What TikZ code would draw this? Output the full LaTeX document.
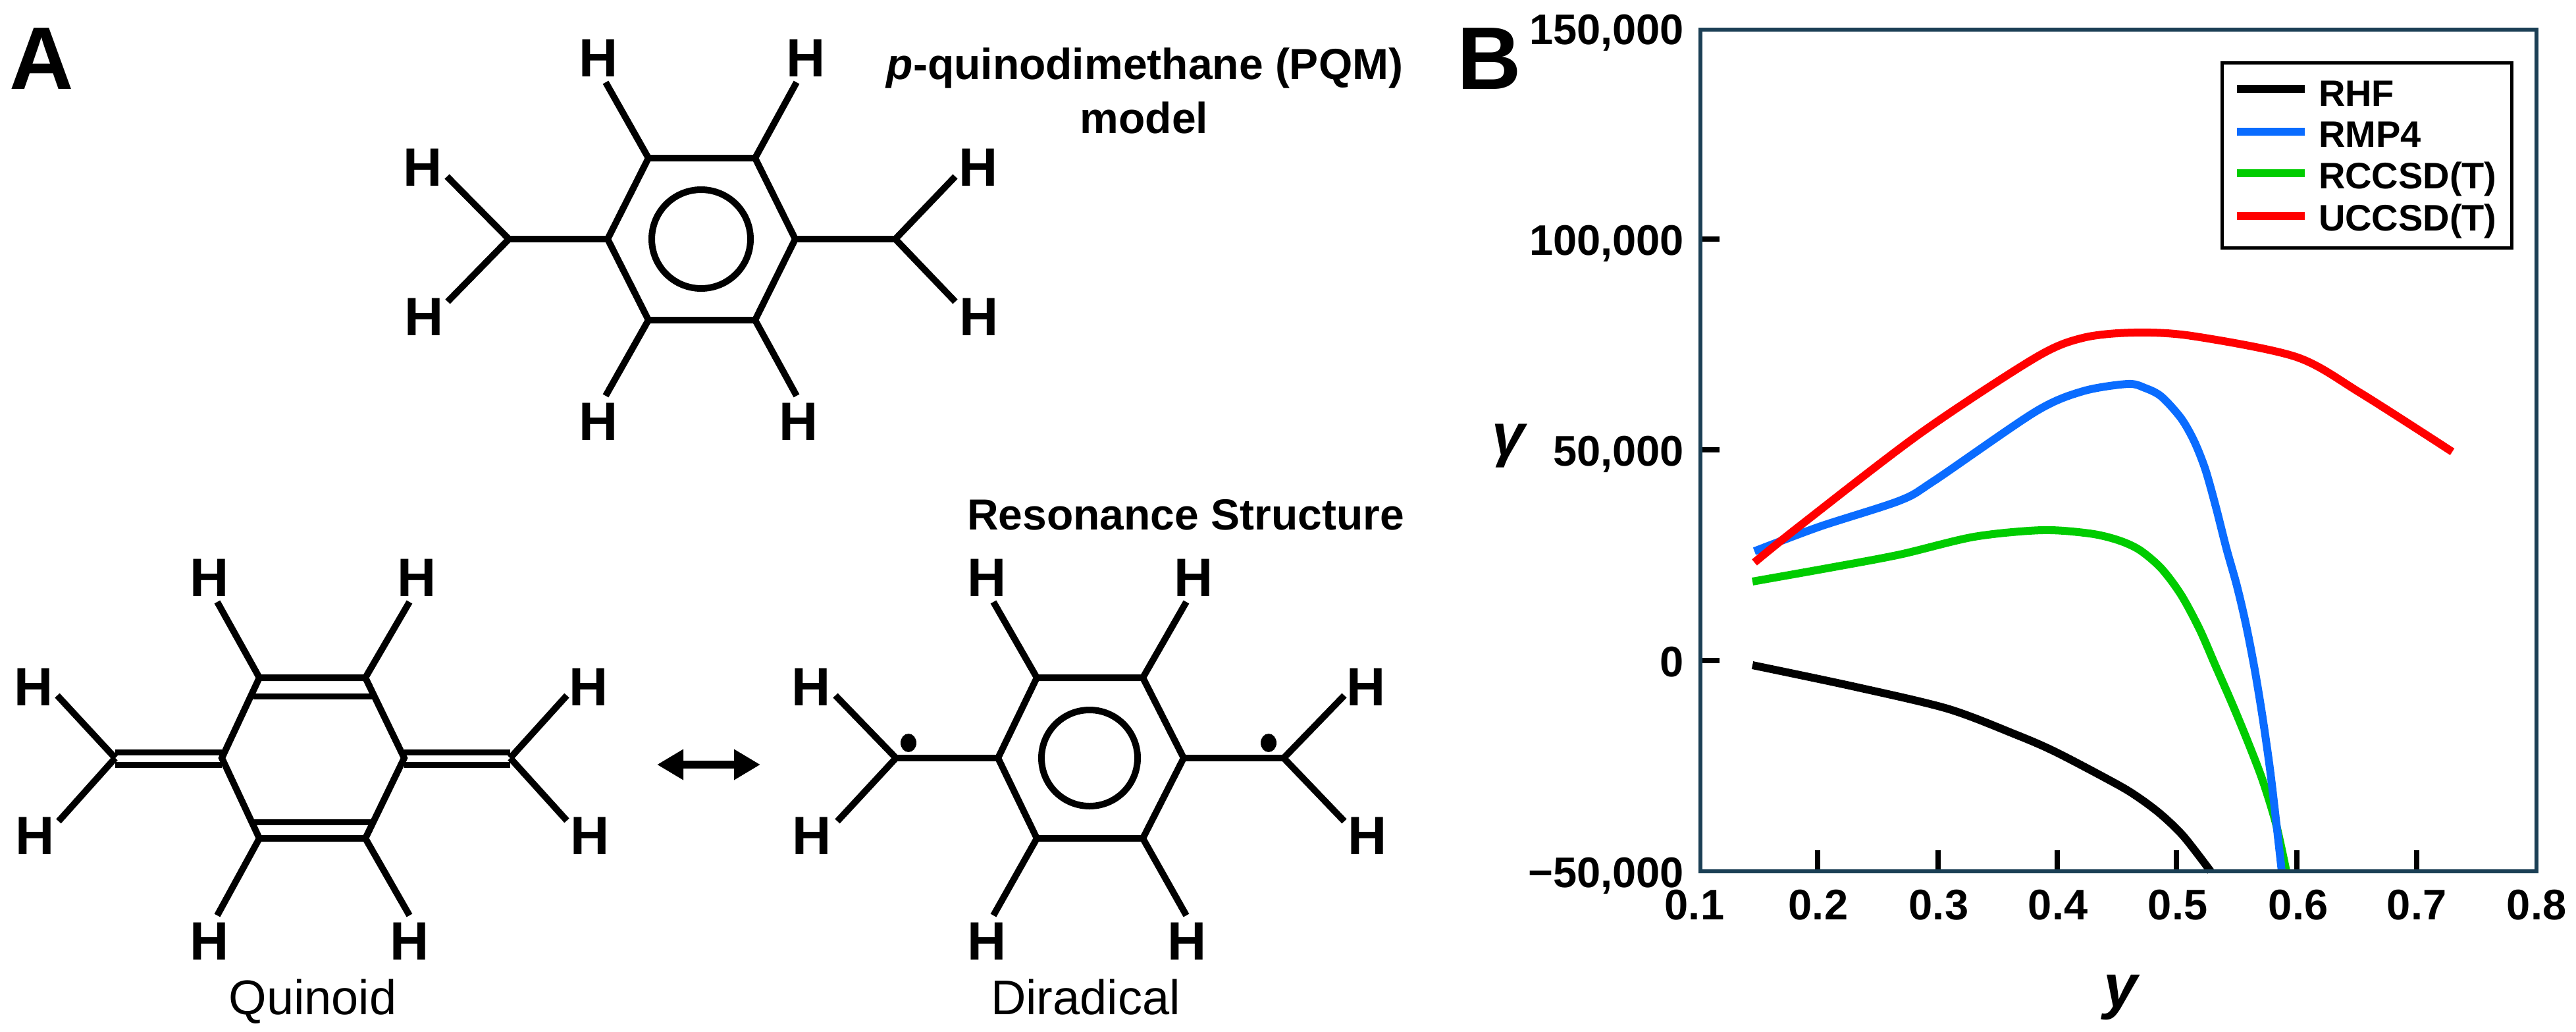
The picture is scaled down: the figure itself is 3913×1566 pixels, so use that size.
\documentclass[tikz,border=0pt]{standalone}
\usepackage{fontspec}
\setmainfont{Liberation Sans}
\usetikzlibrary{arrows.meta}
\newcommand{\fsz}[1]{\fontsize{#1}{#1}\selectfont}
\definecolor{axiscol}{HTML}{1B3F55}
\definecolor{cblue}{HTML}{0A6CFF}
\definecolor{cgreen}{HTML}{00CC00}
\definecolor{cred}{HTML}{FF0000}
\tikzset{
  hatom/.style={inner sep=0pt,outer sep=0pt,font=\fsz{82}\bfseries},
  bond/.style={line width=10pt,line join=miter,line cap=butt},
  dblbond/.style={line width=9pt,line cap=butt},
  panel/.style={inner sep=0pt,outer sep=0pt,anchor=base west,font=\fsz{135}\bfseries},
  title/.style={inner sep=0pt,outer sep=0pt,anchor=base,font=\fsz{66}\bfseries},
  caption/.style={inner sep=0pt,outer sep=0pt,anchor=base,font=\fsz{74}},
  ylab/.style={inner sep=0pt,outer sep=0pt,anchor=base east,font=\fsz{65}\bfseries},
  xlab/.style={inner sep=0pt,outer sep=0pt,anchor=base,font=\fsz{65}\bfseries},
  leglab/.style={inner sep=0pt,outer sep=0pt,anchor=base west,font=\fsz{56}\bfseries},
  curve/.style={line width=12pt,line cap=butt,line join=round},
  axtick/.style={line width=8pt,black},
}
\begin{document}
\begin{tikzpicture}[x=1pt,y=-1pt]
\useasboundingbox (0,0) rectangle (3913,1566);
% panel letters
\node[panel] (pa) at (14,135) {A};
\node[panel] (pb) at (2213,135) {B};
% top molecule
\coordinate (tcl) at (773,363);
\coordinate (tr1) at (923,363);
\coordinate (tr2) at (985,240);
\coordinate (tr3) at (1147,240);
\coordinate (tr4) at (1208,363);
\coordinate (tr5) at (1147,486);
\coordinate (tr6) at (985,486);
\coordinate (tcr) at (1360,363);
\coordinate (tcc) at (1065,363);
\draw[bond] (tr1)--(tr2)--(tr3)--(tr4)--(tr5)--(tr6)--cycle;
\draw[bond] (tcc) circle[radius=75pt];
\draw[bond] (tr1)--(tcl); \draw[bond] (tr4)--(tcr);
\node[hatom] (th1) at (909,88) {H};
\node[hatom] (th2) at (1224,88) {H};
\node[hatom] (th3) at (642,254) {H};
\node[hatom] (th4) at (644,481) {H};
\node[hatom] (th5) at (1486,254) {H};
\node[hatom] (th6) at (1487,481) {H};
\node[hatom] (th7) at (909,640) {H};
\node[hatom] (th8) at (1213,640) {H};
\coordinate (te1) at (920,125);
\coordinate (te2) at (1210,125);
\coordinate (te3) at (679,268);
\coordinate (te4) at (680,458);
\coordinate (te5) at (1451,268);
\coordinate (te6) at (1451,458);
\coordinate (te7) at (920,601);
\coordinate (te8) at (1210,601);
\draw[bond] (tr2)--(te1); \draw[bond] (tr3)--(te2);
\draw[bond] (tcl)--(te3); \draw[bond] (tcl)--(te4);
\draw[bond] (tcr)--(te5); \draw[bond] (tcr)--(te6);
\draw[bond] (tr6)--(te7); \draw[bond] (tr5)--(te8);
\node[title] (pqm1) at (1739,120) {\textit{p}-quinodimethane (PQM)};
\node[title] (pqm2) at (1738,202) {model};
% quinoid
\coordinate (qcl) at (175,1151);
\coordinate (qr1) at (337,1151);
\coordinate (qr2) at (394,1029);
\coordinate (qr3) at (555,1029);
\coordinate (qr4) at (614,1151);
\coordinate (qr5) at (555,1273);
\coordinate (qr6) at (394,1273);
\coordinate (qcr) at (775,1151);
\draw[bond] (qr1)--(qr2)--(qr3)--(qr4)--(qr5)--(qr6)--cycle;
\coordinate (qa1) at (385,1057); \coordinate (qa2) at (566,1057);
\coordinate (qb1) at (385,1248); \coordinate (qb2) at (566,1248);
\draw[dblbond] (qa1)--(qa2); \draw[dblbond] (qb1)--(qb2);
\draw[dblbond] (175,1142)--(337,1142); \draw[dblbond] (175,1161)--(337,1161);
\draw[dblbond] (614,1142)--(775,1142); \draw[dblbond] (614,1161)--(775,1161);
\node[hatom] (qh1) at (318,877) {H};
\node[hatom] (qh2) at (633,877) {H};
\node[hatom] (qh3) at (51,1043) {H};
\node[hatom] (qh4) at (53,1269) {H};
\node[hatom] (qh5) at (894,1043) {H};
\node[hatom] (qh6) at (896,1269) {H};
\node[hatom] (qh7) at (318,1429) {H};
\node[hatom] (qh8) at (622,1429) {H};
\coordinate (qe1) at (330,914);
\coordinate (qe2) at (622,914);
\coordinate (qe3) at (87,1056);
\coordinate (qe4) at (89,1247);
\coordinate (qe5) at (861,1056);
\coordinate (qe6) at (861,1246);
\coordinate (qe7) at (330,1390);
\coordinate (qe8) at (622,1390);
\draw[bond] (qr2)--(qe1); \draw[bond] (qr3)--(qe2);
\draw[bond] (qcl)--(qe3); \draw[bond] (qcl)--(qe4);
\draw[bond] (qcr)--(qe5); \draw[bond] (qcr)--(qe6);
\draw[bond] (qr6)--(qe7); \draw[bond] (qr5)--(qe8);
\node[caption] (qcap) at (475,1540) {Quinoid};
% resonance arrow
\coordinate (al) at (998,1161); \coordinate (ar) at (1155,1161);
\draw[line width=12pt,{Triangle[length=40pt,width=44pt]}-{Triangle[length=40pt,width=44pt]}] (al)--(ar);
% diradical
\coordinate (dcl) at (1361,1151);
\coordinate (dr1) at (1516,1151);
\coordinate (dr2) at (1575,1029);
\coordinate (dr3) at (1736,1029);
\coordinate (dr4) at (1798,1151);
\coordinate (dr5) at (1736,1273);
\coordinate (dr6) at (1575,1273);
\coordinate (dcr) at (1950,1151);
\coordinate (dcc) at (1655,1151);
\draw[bond] (dr1)--(dr2)--(dr3)--(dr4)--(dr5)--(dr6)--cycle;
\draw[bond] (dcc) circle[radius=73pt];
\draw[bond] (dr1)--(dcl); \draw[bond] (dr4)--(dcr);
\coordinate (dd1) at (1380,1128); \coordinate (dd2) at (1927,1128);
\fill (dd1) ellipse[x radius=12pt,y radius=14pt];
\fill (dd2) ellipse[x radius=12pt,y radius=14pt];
\node[hatom] (dh1) at (1499,877) {H};
\node[hatom] (dh2) at (1813,877) {H};
\node[hatom] (dh3) at (1232,1043) {H};
\node[hatom] (dh4) at (1233,1269) {H};
\node[hatom] (dh5) at (2075,1043) {H};
\node[hatom] (dh6) at (2077,1269) {H};
\node[hatom] (dh7) at (1499,1429) {H};
\node[hatom] (dh8) at (1803,1429) {H};
\coordinate (de1) at (1509,914);
\coordinate (de2) at (1802,914);
\coordinate (de3) at (1269,1056);
\coordinate (de4) at (1272,1247);
\coordinate (de5) at (2042,1056);
\coordinate (de6) at (2042,1247);
\coordinate (de7) at (1509,1390);
\coordinate (de8) at (1802,1390);
\draw[bond] (dr2)--(de1); \draw[bond] (dr3)--(de2);
\draw[bond] (dcl)--(de3); \draw[bond] (dcl)--(de4);
\draw[bond] (dcr)--(de5); \draw[bond] (dcr)--(de6);
\draw[bond] (dr6)--(de7); \draw[bond] (dr5)--(de8);
\node[title] (res) at (1801,804) {Resonance Structure};
\node[caption] (dcap) at (1649,1540) {Diradical};
% plot curves
\draw[curve,black] plot[smooth,tension=0.5] coordinates {(2662,1010)(2814,1042)(2958,1076)(3061,1115)(3123,1142)(3216,1191)(3250,1212)(3283,1237)(3317,1270)(3358,1323)};
\draw[curve,cgreen] plot[smooth,tension=0.5] coordinates {(2662,883)(2780,862)(2886,842)(2999,815)(3102,805)(3174,810)(3217,820)(3250,835)(3283,863)(3313,903)(3341,955)(3365,1010)(3390,1067)(3414,1125)(3437,1185)(3457,1250)(3473,1323)};
\draw[curve,cblue] plot[smooth,tension=0.5] coordinates {(2665,837)(2763,800)(2886,760)(2938,730)(3092,625)(3164,594)(3232,583)(3258,589)(3283,602)(3313,635)(3333,670)(3350,713)(3366,770)(3382,833)(3398,890)(3412,950)(3425,1017)(3437,1090)(3448,1167)(3457,1243)(3466,1323)};
\draw[curve,cred] plot[smooth,tension=0.5] coordinates {(2665,854)(2732,800)(2917,658)(3092,543)(3164,513)(3241,505)(3329,510)(3488,542)(3586,597)(3725,686)};
% axes
\foreach \tx in {2761,2944,3125,3306,3489,3671} \draw[axtick] (\tx,1323)--(\tx,1291);
\foreach \ty in {363,683,1003} \draw[axtick] (2583,\ty)--(2612,\ty);
\draw[line width=6pt,axiscol] (2583,45) rectangle (3853,1323);
\node[ylab] (y1) at (2558,67) {150,000};
\node[ylab] (y2) at (2558,387) {100,000};
\node[ylab] (y3) at (2558,707) {50,000};
\node[ylab] (y4) at (2558,1027) {0};
\node[ylab] (y5) at (2558,1347) {−50,000};
\node[xlab] (x1) at (2574,1396) {0.1};
\node[xlab] (x2) at (2762,1396) {0.2};
\node[xlab] (x3) at (2945,1396) {0.3};
\node[xlab] (x4) at (3126,1396) {0.4};
\node[xlab] (x5) at (3308,1396) {0.5};
\node[xlab] (x6) at (3491,1396) {0.6};
\node[xlab] (x7) at (3671,1396) {0.7};
\node[xlab] (x8) at (3853,1396) {0.8};
\node[inner sep=0pt,anchor=base,font=\fsz{93}\bfseries\itshape] (xt) at (3221,1529) {y};
\node[inner sep=0pt,anchor=base,font=\fsz{90}\bfseries\itshape] (yt) at (2291,691) {γ};
% legend
\draw[line width=5pt,black,fill=white] (3375,95) rectangle (3815,376);
\draw[curve,black] (3398,135)--(3501,135);
\draw[curve,cblue] (3398,200)--(3501,200);
\draw[curve,cgreen] (3398,263)--(3501,263);
\draw[curve,cred] (3398,328)--(3501,328);
\node[leglab] (l1) at (3522,161) {RHF};
\node[leglab] (l2) at (3522,223) {RMP4};
\node[leglab] (l3) at (3522,286) {RCCSD(T)};
\node[leglab] (l4) at (3522,350) {UCCSD(T)};
\end{tikzpicture}
\end{document}
